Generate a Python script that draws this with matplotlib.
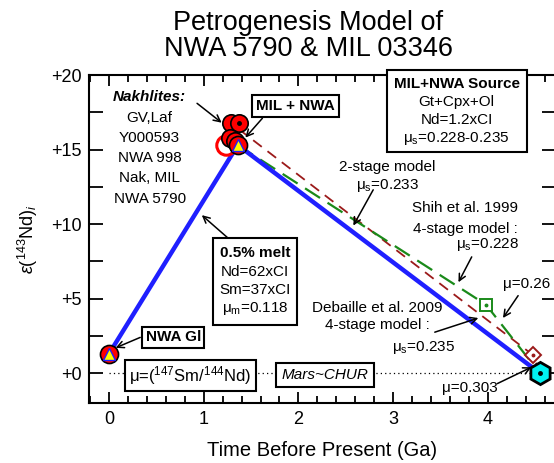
import matplotlib
matplotlib.use("Agg")
import matplotlib.pyplot as plt
from matplotlib.patches import Rectangle
from matplotlib.ticker import MultipleLocator, FuncFormatter

plt.rcParams["font.family"] = ["Liberation Sans", "DejaVu Sans"]
plt.rcParams["mathtext.fontset"] = "custom"
plt.rcParams["mathtext.rm"] = "Liberation Sans"
plt.rcParams["mathtext.it"] = "Liberation Sans:italic"
plt.rcParams["mathtext.bf"] = "Liberation Sans:bold"

# --- data (time in Ga, epsilon 143Nd initial) ---
blue_t = [0.0, 1.36, 4.55]            # 0.5% melt / source evolution
blue_e = [1.3, 15.3, 0.0]
green_t = [1.36, 3.98, 4.55]          # Shih et al. 1999, 4-stage
green_e = [15.3, 4.6, 0.0]
brown_t = [1.22, 4.48, 4.55]          # Debaille et al. 2009, 4-stage
brown_e = [17.1, 1.2, 0.0]
nakh_t = [1.29, 1.37, 1.28, 1.33]     # nakhlites
nakh_e = [16.8, 16.8, 15.8, 15.6]
gl_t, gl_e = 0.0, 1.3                 # NWA glass
mil_t, mil_e = 1.36, 15.3             # MIL + NWA
open_t, open_e = 1.24, 15.3
chur_t, chur_e = 4.55, 0.0
shih_t, shih_e = 3.98, 4.6
deb_t, deb_e = 4.48, 1.2

fig = plt.figure(figsize=(5.54, 4.63), dpi=100)
ax = fig.add_axes([89 / 554, 60 / 463, 467 / 554, 328 / 463])
ax.set_xlim(-0.211, 4.72)
ax.set_ylim(-2.0, 20.0)

# reference line
ax.plot([0.0, chur_t], [0, 0], color="black", ls=(0, (1, 2.5)), lw=0.9, zorder=1)

# model lines
ax.plot(brown_t, brown_e, color="#9b1a1a", lw=1.3, ls=(0, (6, 4)), zorder=2)
ax.plot(green_t, green_e, color="#1a8a1a", lw=1.6, ls=(0, (8, 4)), zorder=2)
ax.plot(blue_t, blue_e, color="#1f1fff", lw=3.2, zorder=3)

# markers
ax.plot(open_t, open_e, "o", ms=14, mfc="none", mec="red", mew=2.2, zorder=4)
for t, e in zip(nakh_t, nakh_e):
    ax.plot(t, e, "o", ms=12.5, mfc="red", mec="black", mew=1.2, zorder=5)
ax.plot(nakh_t[1], nakh_e[1], "o", ms=2.5, color="black", zorder=6)
ax.plot(mil_t, mil_e, "o", ms=13, mfc="red", mec="black", mew=1.2, zorder=6)
ax.plot(mil_t, mil_e, "^", ms=8, mfc="#ffff00", mec="#1f1fff", mew=1, zorder=7)
ax.plot(gl_t, gl_e, "o", ms=13, mfc="red", mec="black", mew=1.2, zorder=6)
ax.plot(gl_t, gl_e, "^", ms=8, mfc="#ffff00", mec="#1f1fff", mew=1, zorder=7)
ax.plot(shih_t, shih_e, "s", ms=9, mfc="white", mec="#1a8a1a", mew=1.4, zorder=6)
ax.plot(shih_t, shih_e, "o", ms=1.8, color="#1a8a1a", zorder=7)
ax.plot(deb_t, deb_e, "D", ms=8, mfc="white", mec="#9b1a1a", mew=1.4, zorder=6)
ax.plot(deb_t, deb_e, "o", ms=1.8, color="#9b1a1a", zorder=7)
ax.plot(chur_t, chur_e, "h", ms=16, mfc="#00f0f0", mec="black", mew=2, zorder=8,
        clip_on=False)
ax.plot(chur_t, chur_e, "o", ms=2.5, color="black", zorder=9, clip_on=False)

# axes styling
for s in ax.spines.values():
    s.set_linewidth(1.5)
ax.xaxis.set_major_locator(MultipleLocator(1))
ax.xaxis.set_minor_locator(MultipleLocator(0.2))
ax.yaxis.set_major_locator(MultipleLocator(5))
ax.yaxis.set_minor_locator(MultipleLocator(2.5))
ax.yaxis.set_major_formatter(FuncFormatter(lambda v, p: f"+{v:.0f}"))
ax.tick_params(which="both", direction="in", top=True, right=True, width=1.3)
ax.tick_params(which="major", length=8, labelsize=13, pad=6)
ax.tick_params(which="minor", length=5)
ax.tick_params(axis="y", which="major", length=10, pad=5)
ax.tick_params(axis="y", which="minor", length=10)
ax.set_xlabel("Time Before Present (Ga)", fontsize=14.5, labelpad=9)
ax.set_ylabel(r"$\varepsilon(^{143}\mathrm{Nd})_i$", fontsize=13, labelpad=8)

fig.text(308 / 554, 1 - 36 / 463, "Petrogenesis Model of\nNWA 5790 & MIL 03346",
         ha="center", va="center", fontsize=19.5, linespacing=1.05)

arrow = dict(arrowstyle="->", color="black", lw=1.1, mutation_scale=12,
             shrinkA=0, shrinkB=0)
fs = 11

# Nakhlites list
ax.text(0.43, 18.5, "Nakhlites:", ha="center", va="center", fontsize=fs,
        fontweight="bold", style="italic")
for y, s in zip([17.1, 15.8, 14.4, 13.1, 11.7],
                ["GV,Laf", "Y000593", "NWA 998", "Nak, MIL", "NWA 5790"]):
    ax.text(0.43, y, s, ha="center", va="center", fontsize=fs)
ax.annotate("", xy=(1.19, 16.8), xytext=(0.93, 18.1), arrowprops=arrow, zorder=9)

# MIL + NWA label
ax.text(1.97, 17.9, "MIL + NWA", ha="center", va="center", fontsize=fs,
        fontweight="bold", zorder=10,
        bbox=dict(boxstyle="square,pad=0.25", fc="white", ec="black", lw=1.5))
ax.annotate("", xy=(1.44, 15.8), xytext=(1.62, 17.1), arrowprops=arrow, zorder=9)

# Source box
ax.add_patch(Rectangle((2.935, 14.83), 1.479, 5.51, fc="white", ec="black",
                       lw=1.5, zorder=10, clip_on=False))
ax.text(3.67, 19.4, "MIL+NWA Source", ha="center", va="center", fontsize=fs,
        fontweight="bold", zorder=11)
ax.text(3.67, 18.2, "Gt+Cpx+Ol", ha="center", va="center", fontsize=fs, zorder=11)
ax.text(3.67, 17.0, "Nd=1.2xCI", ha="center", va="center", fontsize=fs, zorder=11)
ax.text(3.67, 15.75, "μ$_\\mathrm{s}$=0.228-0.235", ha="center", va="center",
        fontsize=fs, zorder=11)

# 2-stage model
ax.text(2.94, 13.8, "2-stage model", ha="center", va="center", fontsize=fs)
ax.text(2.94, 12.6, "μ$_\\mathrm{s}$=0.233", ha="center", va="center", fontsize=fs)
ax.annotate("", xy=(2.58, 9.9), xytext=(2.79, 12.3), arrowprops=arrow, zorder=9)

# Shih et al.
ax.text(3.76, 11.1, "Shih et al. 1999", ha="center", va="center", fontsize=fs)
ax.text(3.76, 9.7, "4-stage model :", ha="center", va="center", fontsize=fs)
ax.text(4.0, 8.6, "μ$_\\mathrm{s}$=0.228", ha="center", va="center", fontsize=fs)
ax.annotate("", xy=(3.69, 6.1), xytext=(3.83, 7.8), arrowprops=arrow, zorder=9)

ax.text(4.41, 6.0, "μ=0.26", ha="center", va="center", fontsize=fs)
ax.annotate("", xy=(4.16, 3.7), xytext=(4.32, 5.2), arrowprops=arrow, zorder=9)

# Debaille et al.
ax.text(2.83, 4.4, "Debaille et al. 2009", ha="center", va="center", fontsize=fs)
ax.text(2.83, 3.2, "4-stage model :", ha="center", va="center", fontsize=fs)
ax.text(3.32, 1.7, "μ$_\\mathrm{s}$=0.235", ha="center", va="center", fontsize=fs)
ax.annotate("", xy=(3.9, 3.7), xytext=(3.44, 2.75), arrowprops=arrow, zorder=9)

ax.text(3.81, -1.0, "μ=0.303", ha="center", va="center", fontsize=fs)
ax.annotate("", xy=(4.46, 0.4), xytext=(4.1, -0.7), arrowprops=arrow, zorder=9)

# melt box
ax.add_patch(Rectangle((1.098, 3.22), 0.887, 5.84, fc="white", ec="black",
                       lw=1.5, zorder=10))
ax.text(1.54, 8.05, "0.5% melt", ha="center", va="center", fontsize=fs,
        fontweight="bold", zorder=11)
ax.text(1.54, 6.8, "Nd=62xCI", ha="center", va="center", fontsize=fs, zorder=11)
ax.text(1.54, 5.6, "Sm=37xCI", ha="center", va="center", fontsize=fs, zorder=11)
ax.text(1.54, 4.35, "μ$_\\mathrm{m}$=0.118", ha="center", va="center",
        fontsize=fs, zorder=11)
ax.annotate("", xy=(0.98, 10.6), xytext=(1.25, 9.1), arrowprops=arrow, zorder=9)

# NWA Gl
ax.text(0.68, 2.4, "NWA Gl", ha="center", va="center", fontsize=fs,
        fontweight="bold", zorder=10,
        bbox=dict(boxstyle="square,pad=0.22", fc="white", ec="black", lw=1.5))
ax.annotate("", xy=(0.07, 1.7), xytext=(0.33, 2.4), arrowprops=arrow, zorder=9)

# mu definition and Mars~CHUR
ax.text(0.86, -0.13, "μ=($^{147}$Sm/$^{144}$Nd)", ha="center", va="center",
        fontsize=12, zorder=10,
        bbox=dict(boxstyle="square,pad=0.25", fc="white", ec="black", lw=1.5))
ax.text(2.28, -0.13, "Mars~CHUR", ha="center", va="center", fontsize=fs,
        style="italic", zorder=10,
        bbox=dict(boxstyle="square,pad=0.35", fc="white", ec="black", lw=1.5))

fig.savefig("out.png", dpi=100)
